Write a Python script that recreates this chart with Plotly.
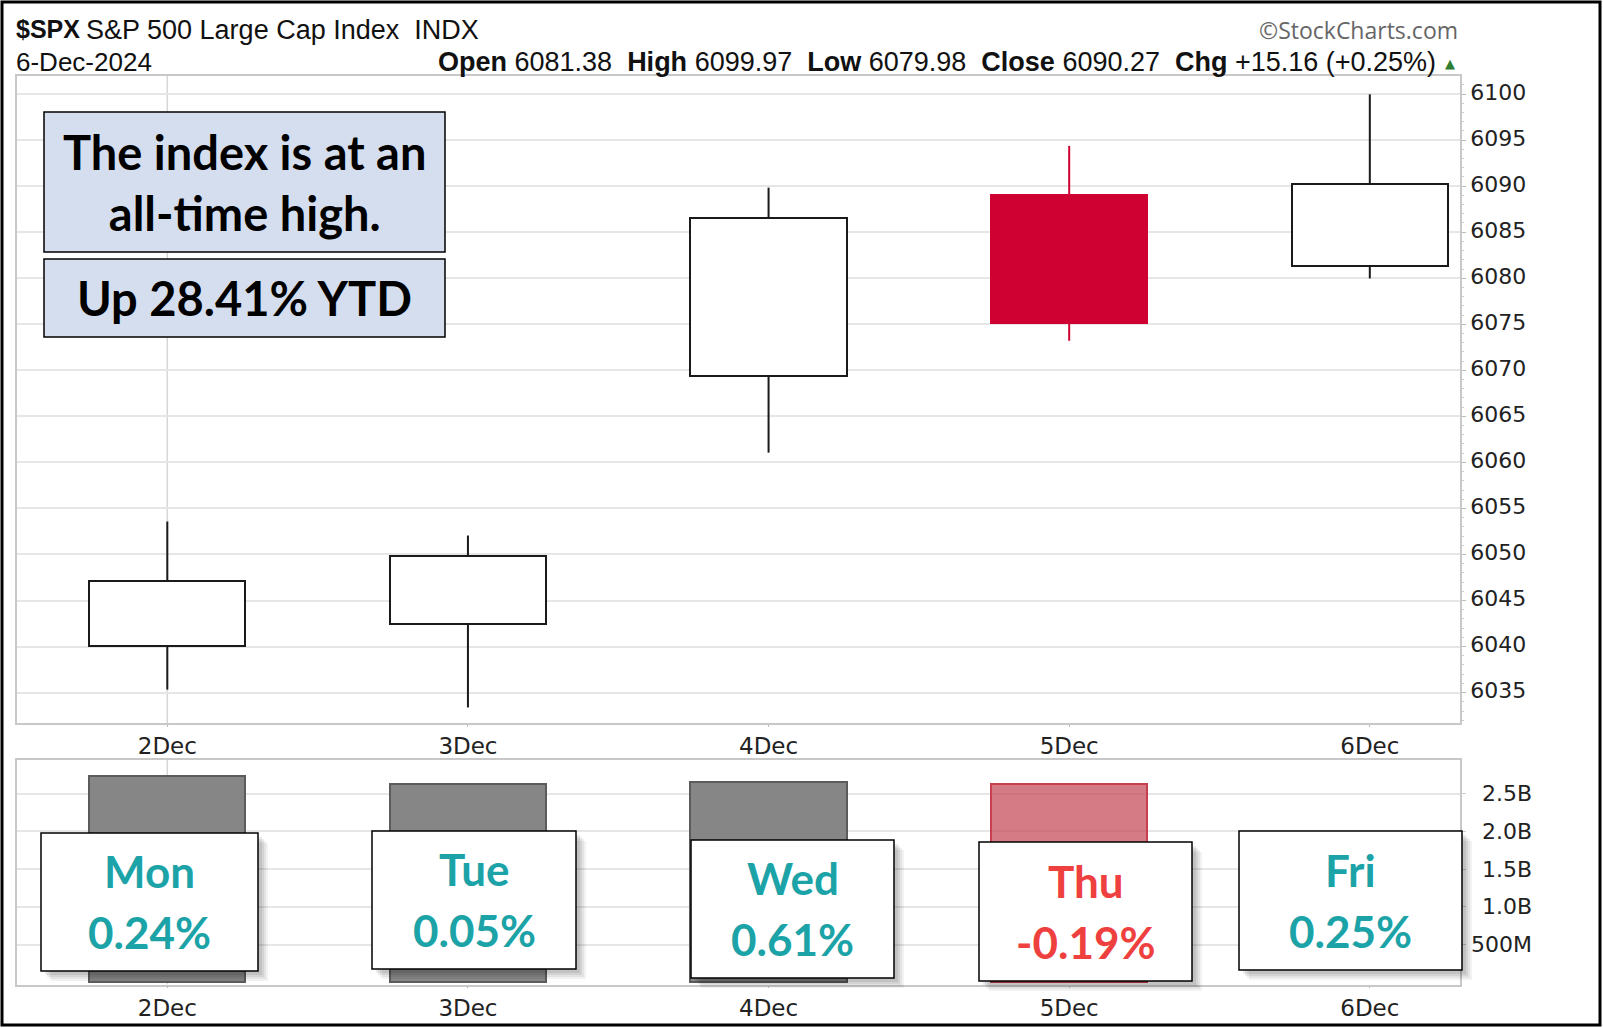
import plotly.graph_objects as go

# ---------------- data ----------------
dates = ["2Dec", "3Dec", "4Dec", "5Dec", "6Dec"]
opens = [6040.11, 6042.50, 6069.39, 6089.03, 6081.38]
highs = [6053.58, 6052.06, 6089.84, 6094.37, 6099.97]
lows = [6035.33, 6033.39, 6061.06, 6073.21, 6079.98]
closes = [6047.15, 6049.88, 6086.49, 6075.11, 6090.27]
volumes = [2.73e9, 2.63e9, 2.65e9, 2.63e9, None]

day_names = ["Mon", "Tue", "Wed", "Thu", "Fri"]
day_changes = [0.24, 0.05, 0.61, -0.19, 0.25]
ytd_change = 28.41

price_ticks = [6035, 6040, 6045, 6050, 6055, 6060, 6065, 6070, 6075, 6080, 6085, 6090, 6095, 6100]
vol_ticks = [0.5e9, 1.0e9, 1.5e9, 2.0e9, 2.5e9]
vol_tick_labels = ["500M", "1.0B", "1.5B", "2.0B", "2.5B"]

# ---------------- layout helpers ----------------
W, H = 1603, 1028
def px(x):
    return x / W
def py(y):
    return 1 - y / H

PLOT_L, PLOT_R = 17, 1460
PRICE_T, PRICE_B = 76, 723
VOL_T, VOL_B = 760, 984.5

INC_LINE = "#1a1a1a"
DEC_COL = "#CF0032"
TEAL = "#1CA3A7"
RED_TXT = "#EF4040"
GRID = "#E6E6E6"
AXLINE = "#C8C8C8"
TICKFONT = dict(family="DejaVu Sans", size=23, color="#222222")
YTICKFONT = dict(family="DejaVu Sans", size=22, color="#222222")

fig = go.Figure()

# candle wicks (drawn as two segments so bodies stay clean)
for d, o, h, l, c in zip(dates, opens, highs, lows, closes):
    col = INC_LINE if c >= o else DEC_COL
    fig.add_trace(go.Scatter(
        x=[d, d, None, d, d],
        y=[h, max(o, c), None, min(o, c), l],
        mode="lines", line=dict(color=col, width=2),
        showlegend=False, hoverinfo="skip", xaxis="x", yaxis="y"))

# candle bodies
fig.add_trace(go.Bar(
    x=dates,
    base=[min(o, c) for o, c in zip(opens, closes)],
    y=[abs(c - o) for o, c in zip(opens, closes)],
    width=0.52,
    marker=dict(
        color=["white" if c >= o else DEC_COL for o, c in zip(opens, closes)],
        line=dict(color=[INC_LINE if c >= o else DEC_COL for o, c in zip(opens, closes)], width=2)),
    showlegend=False, xaxis="x", yaxis="y"))

# volume bars
fig.add_trace(go.Bar(
    x=dates, y=volumes, width=0.52,
    marker=dict(
        color=["#868686" if c >= o else "rgba(196,72,86,0.72)" for o, c in zip(opens, closes)],
        line=dict(color=["#5c5c5c" if c >= o else "#C8404F" for o, c in zip(opens, closes)], width=2)),
    showlegend=False, xaxis="x2", yaxis="y2"))

xaxis_common = dict(
    type="category", categoryorder="array", categoryarray=dates,
    range=[-0.5, 4.3], showgrid=False, zeroline=False,
    showline=True, mirror=True, linecolor=AXLINE, linewidth=1.5,
    ticks="outside", ticklen=2, tickcolor="#BBBBBB",
    tickfont=TICKFONT, fixedrange=True)

fig.update_layout(
    width=W, height=H,
    margin=dict(l=0, r=0, t=0, b=0),
    paper_bgcolor="white", plot_bgcolor="white",
    bargap=0, showlegend=False,
    xaxis=dict(domain=[px(PLOT_L), px(PLOT_R)], anchor="y", **xaxis_common),
    yaxis=dict(domain=[py(PRICE_B), py(PRICE_T)], anchor="x", side="right",
               range=[6031.70, 6101.96], tickvals=price_ticks,
               showgrid=True, gridcolor=GRID, gridwidth=1.5, zeroline=False,
               showline=True, mirror=True, linecolor=AXLINE, linewidth=1.5,
               ticks="outside", ticklen=4, tickcolor="#BBBBBB", ticklabelshift=-2,
               minor=dict(dtick=1, ticks="outside", ticklen=2, tickcolor="#CCCCCC", showgrid=False),
               tickfont=YTICKFONT),
    xaxis2=dict(domain=[px(PLOT_L), px(PLOT_R)], anchor="y2", **xaxis_common),
    yaxis2=dict(domain=[py(VOL_B), py(VOL_T)], anchor="x2", side="right",
                range=[-0.03e9, 2.945e9], tickvals=vol_ticks, showticklabels=False,
                showgrid=True, gridcolor=GRID, gridwidth=1.5, zeroline=False,
                showline=True, mirror=True, linecolor=AXLINE, linewidth=1.5,
                ticks="outside", ticklen=4, tickcolor="#CCCCCC"),
)

shapes = []
annotations = []

# month-start vertical marker line at 2Dec
for xr, yr in [("x", "y domain"), ("x2", "y2 domain")]:
    shapes.append(dict(type="line", xref=xr, yref=yr,
                       x0=0, x1=0, y0=0, y1=1, line=dict(color="#D6D6D6", width=1.5), layer="below"))

# volume tick labels (right aligned)
for v, lab in zip(vol_ticks, vol_tick_labels):
    annotations.append(dict(xref="paper", yref="y2", x=px(1534), y=v, text=lab,
                            xanchor="right", yanchor="middle", showarrow=False,
                            font=YTICKFONT))

# header
nb = "\u00a0"
annotations.append(dict(xref="paper", yref="paper", x=px(14), y=py(29), xanchor="left", yanchor="middle",
                        text="<b>$SPX</b>", showarrow=False,
                        font=dict(family="Liberation Sans", size=25, color="#111")))
annotations.append(dict(xref="paper", yref="paper", x=px(84), y=py(30), xanchor="left", yanchor="middle",
                        text=f"S&P 500 Large Cap Index{nb}{nb}INDX", showarrow=False,
                        font=dict(family="Liberation Sans", size=27, color="#111")))
annotations.append(dict(xref="paper", yref="paper", x=px(14), y=py(62), xanchor="left", yanchor="middle",
                        text="6-Dec-2024", showarrow=False,
                        font=dict(family="Liberation Sans", size=26, color="#111")))
chg = closes[-1] - closes[-2]
chg_pct = chg / closes[-2] * 100
hdr = (f"<b>Open</b> {opens[-1]:.2f}{nb}{nb}<b>High</b> {highs[-1]:.2f}{nb}{nb}"
       f"<b>Low</b> {lows[-1]:.2f}{nb}{nb}<b>Close</b> {closes[-1]:.2f}{nb}{nb}"
       f"<b>Chg</b> {chg:+.2f} ({chg_pct:+.2f}%)")
annotations.append(dict(xref="paper", yref="paper", x=px(1438), y=py(62), xanchor="right", yanchor="middle",
                        text=hdr, showarrow=False,
                        font=dict(family="Liberation Sans", size=27, color="#111")))
annotations.append(dict(xref="paper", yref="paper", x=px(1443), y=py(63), xanchor="left", yanchor="middle",
                        text="▲", showarrow=False,
                        font=dict(family="DejaVu Sans", size=13, color="#2E7D32")))
annotations.append(dict(xref="paper", yref="paper", x=px(1460), y=py(30), xanchor="right", yanchor="middle",
                        text="©StockCharts.com", showarrow=False,
                        font=dict(family="Open Sans", size=23, color="#666666")))

# top-left info boxes
BOX_FILL = "#D4DEEF"
info_boxes = [(44, 112, 445, 252), (44, 259, 445, 337)]
info_texts = ["The index is at an<br>all-time high.", f"Up {ytd_change:.2f}% YTD"]
for (x0, y0, x1, y1), t in zip(info_boxes, info_texts):
    shapes.append(dict(type="rect", xref="paper", yref="paper",
                       x0=px(x0), x1=px(x1), y0=py(y1), y1=py(y0),
                       fillcolor=BOX_FILL, line=dict(color="black", width=1.5), layer="above"))
    annotations.append(dict(xref="paper", yref="paper", x=px((x0 + x1) / 2), y=py((y0 + y1) / 2),
                            xanchor="center", yanchor="middle", text=f"<b>{t}</b>", showarrow=False,
                            font=dict(family="Lato", size=47, color="black")))

# day boxes with soft shadow
day_boxes = [(41, 833, 258, 971), (372, 831, 576, 969), (691, 840, 894, 978),
             (979, 842, 1192, 981), (1239, 831, 1462, 970)]
for (x0, y0, x1, y1), name, pct in zip(day_boxes, day_names, day_changes):
    for off, a in [(10, 0.05), (8, 0.06), (6, 0.07), (4, 0.08)]:
        shapes.append(dict(type="rect", xref="paper", yref="paper",
                           x0=px(x0 + off), x1=px(x1 + off), y0=py(y1 + off), y1=py(y0 + off),
                           fillcolor=f"rgba(0,0,0,{a})", line=dict(width=0), layer="above"))
    shapes.append(dict(type="rect", xref="paper", yref="paper",
                       x0=px(x0), x1=px(x1), y0=py(y1), y1=py(y0),
                       fillcolor="white", line=dict(color="black", width=1.5), layer="above"))
    col = TEAL if pct >= 0 else RED_TXT
    cy = (y0 + y1) / 2
    cx = (x0 + x1) / 2
    annotations.append(dict(xref="paper", yref="paper", x=px(cx), y=py(cy - 31),
                            xanchor="center", yanchor="middle", text=f"<b>{name}</b>", showarrow=False,
                            font=dict(family="Lato", size=44, color=col)))
    annotations.append(dict(xref="paper", yref="paper", x=px(cx), y=py(cy + 30),
                            xanchor="center", yanchor="middle", text=f"<b>{pct:.2f}%</b>", showarrow=False,
                            font=dict(family="Lato", size=44, color=col)))

# outer frame
shapes.append(dict(type="rect", xref="paper", yref="paper", x0=px(2), x1=px(1600), y0=py(1025), y1=py(2),
                   line=dict(color="black", width=3), fillcolor="rgba(0,0,0,0)", layer="above"))

fig.update_layout(shapes=shapes, annotations=annotations)
fig.write_html("out.html")
